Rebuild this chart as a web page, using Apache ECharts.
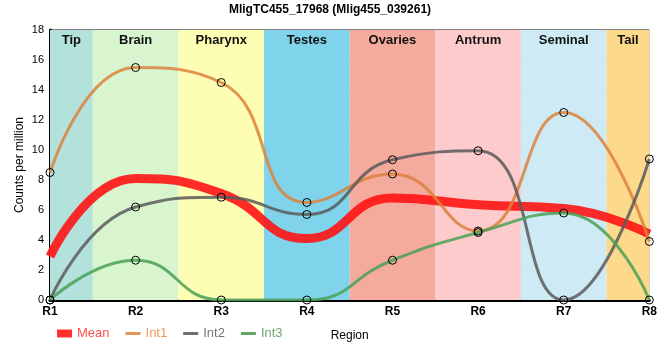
<!DOCTYPE html>
<html><head><meta charset="utf-8">
<script src="https://cdn.jsdelivr.net/npm/echarts@6/dist/echarts.min.js"></script>
<style>html,body{margin:0;padding:0;background:#fff}#c{width:660px;height:360px}</style>
</head><body><div id="c"></div>
<script>
const regions = [1,2,3,4,5,6,7,8];
const tickLabels = ['R1','R2','R3','R4','R5','R6','R7','R8'];
const meanVals = [2.9, 8.1, 7.1, 4.1, 6.8, 6.35, 6.1, 4.4];
const int1Vals = [8.5, 15.5, 14.5, 6.5, 8.4, 4.6, 12.5, 3.9];
const int2Vals = [0, 6.2, 6.85, 5.7, 9.35, 9.95, 0, 9.4];
const int3Vals = [0, 2.65, 0, 0, 2.65, 4.5, 5.8, 0];
const bandNames = ['Tip','Brain','Pharynx','Testes','Ovaries','Antrum','Seminal','Tail'];
const bandStarts = [1, 1.5, 2.5, 3.5, 4.5, 5.5, 6.5, 7.5];
const bandEnds = [1.5, 2.5, 3.5, 4.5, 5.5, 6.5, 7.5, 8];
const bandColors = ['#b3e2dd','#d8f5cf','#fdfdb4','#7fd3ea','#f4aa9c','#fdcbcb','#ceeaf4','#fdd98b'];

const colors = {Mean:'rgba(255,20,20,0.9)', Int1:'rgba(220,130,60,0.85)', Int2:'rgba(90,90,90,0.85)', Int3:'rgba(75,160,85,0.85)'};
const textColors = {Mean:'#ff5050', Int1:'#e59a60', Int2:'#777', Int3:'#6aaa72'};

const pairs = v => regions.map((r,i)=>[r, v[i]]);
const chart = echarts.init(document.getElementById('c'));
const lineSeries = (name, vals, width, markers) => ({
  name, type:'line', data: pairs(vals), smooth:0.5, z:3,
  showSymbol: markers, symbol:'circle', symbolSize:8,
  itemStyle:{color:'rgba(0,0,0,0)', borderColor:'#000', borderWidth:1},
  lineStyle:{color:colors[name], width},
  emphasis:{disabled:true}
});
const thin = 'path://M0,0 L15,0 L15,3 L0,3 Z';
chart.setOption({
  animation:false,
  title:{text:'MligTC455_17968 (Mlig455_039261)', left:'center', top:4, padding:0,
    textStyle:{fontSize:12, fontWeight:'bold', color:'#000', fontFamily:'Liberation Sans, Arial'}},
  grid:{left:50, right:10, top:30, bottom:60, show:true, borderColor:'#000', borderWidth:1, backgroundColor:'transparent'},
  graphic:[{type:'text', x:20, y:165, rotation:Math.PI/2, silent:true,
    style:{text:'Counts per million', fill:'#000', fontSize:12, fontFamily:'Liberation Sans, Arial', align:'center', verticalAlign:'middle'}}],
  legend:{left:52, top:322, itemGap:16, itemWidth:15, itemHeight:8, symbolKeepAspect:true,
    textStyle:{fontSize:13, fontFamily:'Liberation Sans, Arial'},
    data:[
      {name:'Mean', icon:'rect', itemStyle:{color:'#ff3030', borderWidth:0}, textStyle:{color:textColors.Mean}},
      {name:'Int1', icon:thin, itemStyle:{color:'#e0955a', borderWidth:0}, textStyle:{color:textColors.Int1}},
      {name:'Int2', icon:thin, itemStyle:{color:'#707070', borderWidth:0}, textStyle:{color:textColors.Int2}},
      {name:'Int3', icon:thin, itemStyle:{color:'#60a868', borderWidth:0}, textStyle:{color:textColors.Int3}}
    ]},
  xAxis:{type:'value', min:1, max:8, interval:1, name:'Region', nameLocation:'middle', nameGap:30,
    nameTextStyle:{color:'#000', fontSize:12, fontFamily:'Liberation Sans, Arial'},
    axisLine:{lineStyle:{color:'#000', width:3}}, axisTick:{show:false},
    axisLabel:{formatter:v=>tickLabels[v-1], color:'#000', fontWeight:'bold', fontSize:12, margin:6, fontFamily:'Liberation Sans, Arial'},
    splitLine:{show:true, lineStyle:{color:'#ccc', width:1}}},
  yAxis:{type:'value', min:0, max:18, interval:2,
    axisLine:{show:true, lineStyle:{color:'#000', width:3}}, axisTick:{show:false},
    axisLabel:{color:'#000', fontSize:11, margin:6, fontFamily:'Liberation Sans, Arial'},
    splitLine:{show:true, lineStyle:{color:'#ccc', width:1}}},
  series:[
    {name:'bands', type:'line', data:[], z:1, silent:true,
      markArea:{silent:true, label:{show:true, position:'insideTop', distance:4, color:'#111', fontWeight:'bold', fontSize:13, fontFamily:'Liberation Sans, Arial'},
        data: bandNames.map((n,i)=>[{name:n, xAxis:bandStarts[i], itemStyle:{color:bandColors[i], opacity:1}}, {xAxis:bandEnds[i]}])}},
    lineSeries('Mean', meanVals, 9, false),
    lineSeries('Int1', int1Vals, 3, true),
    lineSeries('Int2', int2Vals, 3, true),
    lineSeries('Int3', int3Vals, 3, true)
  ]
});
</script></body></html>
